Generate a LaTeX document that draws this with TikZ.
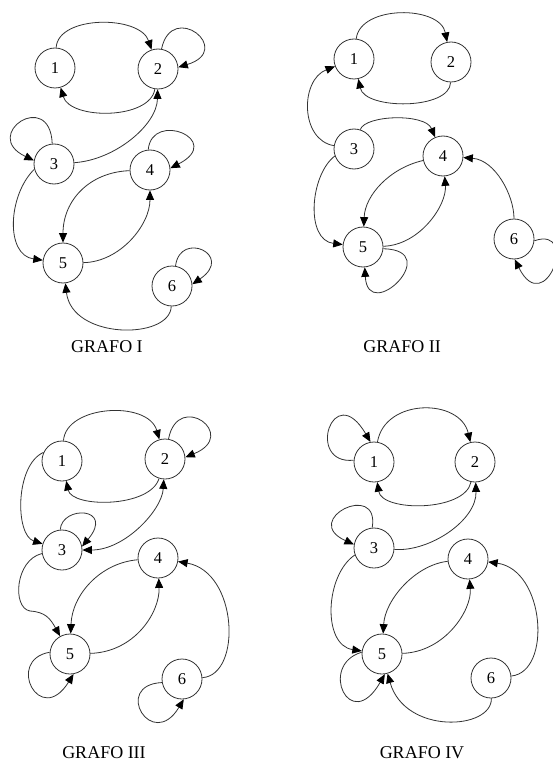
\documentclass[tikz,border=0pt]{standalone}
\usepackage{fontspec}
\setmainfont{Liberation Serif}
\usetikzlibrary{arrows.meta}
\begin{document}
\begin{tikzpicture}[x=1pt,y=-1pt,
  vert/.style={draw=black!80,circle,minimum size=40pt,inner sep=0pt,line width=0.8pt,font=\fontsize{16.5}{16.5}\selectfont},
  conn/.style={draw=black!80,line width=0.8pt,-{Triangle[length=9.5pt,width=8pt,color=black]}},
  both/.style={draw=black!80,line width=0.8pt,{Triangle[length=9.5pt,width=8pt,color=black]}-{Triangle[length=9.5pt,width=8pt,color=black]}},
  title/.style={font=\fontsize{18}{18}\selectfont}]
\useasboundingbox[fill=white] (0,0) rectangle (552,762);

% ---------- GRAFO I ----------
\node[vert] (a1) at (55,68) {1};
\node[vert] (a2) at (158,69) {2};
\node[vert] (a3) at (54,164) {3};
\node[vert] (a4) at (150,170) {4};
\node[vert] (a5) at (63,263) {5};
\node[vert] (a6) at (172,286) {6};
\node[title] (ta) at (107,347) {GRAFO I};
\draw[conn] (a1) .. controls (58,15) and (140,15) .. (a2);
\draw[conn] (a2.80) .. controls (172,0) and (235,50) .. (a2.5);
\draw[conn] (a2) .. controls (150,120) and (70,120) .. (a1);
\draw[conn] (a3) .. controls (115,160) and (157,125) .. (a2);
\draw[conn] (a3.95) .. controls (50,88) and (-20,135) .. (a3.170);
\draw[conn] (a3.195) .. controls (8,195) and (5,255) .. (a5);
\draw[conn] (a4.95) .. controls (152,110) and (225,140) .. (a4.5);
\draw[conn] (a4) .. controls (90,172) and (63,200) .. (a5);
\draw[conn] (a5) .. controls (120,262) and (150,225) .. (a4);
\draw[conn] (a6.80) .. controls (180,230) and (235,255) .. (a6.5);
\draw[conn] (a6) .. controls (170,340) and (72,340) .. (a5);

% ---------- GRAFO II ----------
\node[vert] (b1) at (354,59) {1};
\node[vert] (b2) at (451,62) {2};
\node[vert] (b3) at (354,149) {3};
\node[vert] (b4) at (443,156) {4};
\node[vert] (b5) at (363,247) {5};
\node[vert] (b6) at (514,239) {6};
\node[title] (tb) at (402,347) {GRAFO II};
\draw[conn] (b1) .. controls (360,5) and (440,5) .. (b2);
\draw[conn] (b2) .. controls (450,110) and (365,110) .. (b1);
\draw[conn] (b3) .. controls (300,140) and (300,80) .. (b1);
\draw[conn] (b3) .. controls (365,115) and (425,113) .. (b4);
\draw[conn] (b3.200) .. controls (310,175) and (305,240) .. (b5);
\draw[conn] (b4) .. controls (390,168) and (365,195) .. (b5);
\draw[conn] (b5) .. controls (420,245) and (447,205) .. (b4);
\draw[conn] (b5.-5) .. controls (445,250) and (368,325) .. (b5.-85);
\draw[conn] (b6) .. controls (514,195) and (495,160) .. (b4);
\draw[conn] (b6.-5) .. controls (580,225) and (545,320) .. (b6.-88);

% ---------- GRAFO III ----------
\node[vert] (c1) at (62,461) {1};
\node[vert] (c2) at (165,459) {2};
\node[vert] (c3) at (62,550) {3};
\node[vert] (c4) at (158,558) {4};
\node[vert] (c5) at (70,654) {5};
\node[vert] (c6) at (182,679) {6};
\node[title] (tc) at (104,753) {GRAFO III};
\coordinate (c35) at (30,611);
\draw[conn] (c1) .. controls (66,405) and (148,400) .. (c2);
\draw[conn] (c2.80) .. controls (178,390) and (240,435) .. (c2.5);
\draw[conn] (c2) .. controls (150,508) and (72,508) .. (c1);
\draw[both] (c2) .. controls (162,510) and (125,550) .. (c3);
\draw[conn] (c3.95) .. controls (62,505) and (115,507) .. (c3.10);
\draw[conn] (c1.155) .. controls (15,465) and (15,535) .. (c3);
\draw[conn] (c3.190) .. controls (15,560) and (12,608) .. (c35) .. controls (45,612) and (50,618) .. (c5);
\draw[conn] (c4) .. controls (100,563) and (72,595) .. (c5);
\draw[conn] (c5) .. controls (135,652) and (160,612) .. (c4);
\draw[conn] (c5.175) .. controls (5,660) and (40,728) .. (c5.-80);
\draw[conn] (c6) .. controls (242,675) and (238,572) .. (c4);
\draw[conn] (c6.190) .. controls (112,685) and (152,752) .. (c6.-85);

% ---------- GRAFO IV ----------
\node[vert] (d1) at (374,462) {1};
\node[vert] (d2) at (475,462) {2};
\node[vert] (d3) at (374,548) {3};
\node[vert] (d4) at (468,559) {4};
\node[vert] (d5) at (382,654) {5};
\node[vert] (d6) at (491,678) {6};
\node[title] (td) at (422,753) {GRAFO IV};
\draw[conn] (d1.175) .. controls (305,465) and (333,378) .. (d1.100);
\draw[conn] (d1) .. controls (385,398) and (460,398) .. (d2);
\draw[conn] (d2) .. controls (465,512) and (382,512) .. (d1);
\draw[conn] (d3) .. controls (430,552) and (477,520) .. (d2);
\draw[conn] (d3.95) .. controls (380,480) and (300,520) .. (d3.170);
\draw[conn] (d3.200) .. controls (325,575) and (322,645) .. (d5);
\draw[conn] (d4) .. controls (415,565) and (385,600) .. (d5);
\draw[conn] (d5) .. controls (445,652) and (472,610) .. (d4);
\draw[conn] (d5.175) .. controls (318,665) and (350,735) .. (d5.-82);
\draw[conn] (d6) .. controls (552,672) and (545,570) .. (d4);
\draw[conn] (d6) .. controls (492,730) and (405,735) .. (d5);
\end{tikzpicture}
\end{document}
